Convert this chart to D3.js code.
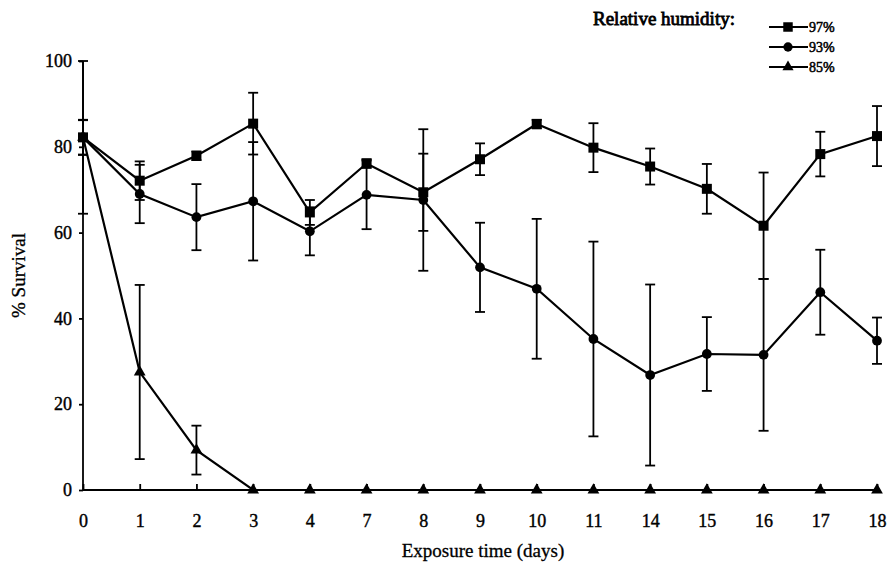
<!DOCTYPE html>
<html>
<head>
<meta charset="utf-8">
<script src="https://cdn.jsdelivr.net/npm/d3@7"></script>
<style>
  body { margin: 0; background: #fff; }
  svg { display: block; }
  text { font-family: "Liberation Serif", "Times New Roman", serif; fill: #000; }
</style>
</head>
<body>
<svg width="887" height="573"></svg>
<script>
const days = ["0", "1", "2", "3", "4", "7", "8", "9", "10", "11", "14", "15", "16", "17", "18"];
const y_ticks = [0, 20, 40, 60, 80, 100];

// mean survival and error (+/-) per relative humidity
const rh97 = [82.2, 72.1, 77.9, 85.4, 64.7, 76.1, 69.4, 77.1, 85.3, 79.8, 75.4, 70.2, 61.6, 78.3, 82.5];
const rh97_err = [4.1, 4.5, 1, 7.2, 2.9, 1, 9, 3.7, 1, 5.7, 4.2, 5.8, 12.4, 5.2, 7];
const rh93 = [82.2, 69, 63.6, 67.3, 60.3, 68.8, 67.6, 51.9, 46.9, 35.2, 26.8, 31.7, 31.5, 46.1, 34.8];
const rh93_err = [4, 6.8, 7.7, 13.8, 5.6, 8, 16.5, 10.4, 16.3, 22.7, 21.1, 8.6, 17.7, 9.9, 5.4];
const rh85 = [82.2, 27.5, 9.3, 0, 0, 0, 0, 0, 0, 0, 0, 0, 0, 0, 0];
const rh85_err = [17.8, 20.3, 5.7, 0, 0, 0, 0, 0, 0, 0, 0, 0, 0, 0, 0];

const series = [
  { name: "97%", shape: d3.symbolSquare, size: 100, values: rh97, err: rh97_err },
  { name: "93%", shape: d3.symbolCircle, size: 75, values: rh93, err: rh93_err },
  { name: "85%", shape: d3.symbolTriangle, size: 60, values: rh85, err: rh85_err }
];

const margin = { left: 83, right: 10, top: 61, bottom: 83 };
const width = 887, height = 573;

const svg = d3.select("svg");

const x_scale = d3.scalePoint().domain(days).range([margin.left, 877]);
const y_scale = d3.scaleLinear().domain([0, 100]).range([height - margin.bottom, margin.top]);

// error bars
series.forEach((s) => {
  const g = svg.append("g").attr("stroke", "#000").attr("stroke-width", 1.8);
  days.forEach((d, i) => {
    if (!s.err[i]) return;
    const cx = x_scale(d);
    const lo = y_scale(Math.max(0, s.values[i] - s.err[i]));
    const hi = y_scale(Math.min(100, s.values[i] + s.err[i]));
    g.append("line").attr("x1", cx).attr("x2", cx).attr("y1", lo).attr("y2", hi);
    g.append("line").attr("x1", cx - 5).attr("x2", cx + 5).attr("y1", lo).attr("y2", lo);
    g.append("line").attr("x1", cx - 5).attr("x2", cx + 5).attr("y1", hi).attr("y2", hi);
  });
});

// axes
const x_axis = d3.axisBottom(x_scale).tickSize(-6).tickPadding(30);
const y_axis = d3.axisLeft(y_scale).tickValues(y_ticks).tickSize(4).tickPadding(7);

const gx = svg.append("g")
  .attr("transform", `translate(0,${height - margin.bottom})`)
  .call(x_axis);
gx.select(".domain").attr("d", `M${margin.left},0H880`);

const gy = svg.append("g")
  .attr("transform", `translate(${margin.left},0)`)
  .call(y_axis);
gy.select(".domain").attr("d", `M0,${y_scale(0)}V${y_scale(100)}`);

[gx, gy].forEach((g) => {
  g.attr("font-family", null).attr("font-size", null);
  g.selectAll("path, line").attr("stroke", "#000").attr("stroke-width", 1.8);
  g.selectAll("text")
    .attr("fill", "#000")
    .attr("stroke", "#000")
    .attr("stroke-width", 0.4)
    .style("font-family", "'Liberation Serif', serif")
    .style("font-size", "18px");
});
gx.selectAll("text").attr("dy", "0.4em");

// lines and markers
const line_generator = d3.line()
  .x((d, i) => x_scale(days[i]))
  .y((d) => y_scale(d));

series.forEach((s) => {
  svg.append("path")
    .attr("fill", "none")
    .attr("stroke", "#000")
    .attr("stroke-width", 2.2)
    .attr("d", line_generator(s.values));
  svg.append("g")
    .selectAll("path")
    .data(s.values)
    .join("path")
    .attr("transform", (d, i) => `translate(${x_scale(days[i])},${y_scale(d)})`)
    .attr("d", d3.symbol().type(s.shape).size(s.size))
    .attr("fill", "#000");
});

// legend (bold faked with a thin stroke to stay serif)
svg.append("text")
  .attr("x", 593)
  .attr("y", 25)
  .attr("stroke", "#000")
  .attr("stroke-width", 0.8)
  .style("font-size", "19px")
  .text("Relative humidity:");

const legend = svg.append("g").attr("transform", "translate(769,0)");
series.forEach((s, i) => {
  const ly = 27 + i * 20;
  legend.append("line")
    .attr("x1", 0).attr("x2", 39)
    .attr("y1", ly).attr("y2", ly)
    .attr("stroke", "#000").attr("stroke-width", 1.8);
  legend.append("path")
    .attr("transform", `translate(19,${ly})`)
    .attr("d", d3.symbol().type(s.shape).size(s.size * 0.9))
    .attr("fill", "#000");
  legend.append("text")
    .attr("x", 40)
    .attr("y", ly + 5)
    .attr("stroke", "#000")
    .attr("stroke-width", 0.5)
    .style("font-size", "14px")
    .text(s.name);
});

// axis labels
svg.append("text")
  .attr("text-anchor", "middle")
  .attr("transform", `translate(25,${(y_scale(0) + y_scale(100)) / 2}) rotate(-90)`)
  .attr("stroke", "#000")
  .attr("stroke-width", 0.3)
  .style("font-size", "19px")
  .text("% Survival");

svg.append("text")
  .attr("x", 483)
  .attr("y", 557)
  .attr("text-anchor", "middle")
  .attr("stroke", "#000")
  .attr("stroke-width", 0.3)
  .style("font-size", "19px")
  .text("Exposure time (days)");
</script>
</body>
</html>
